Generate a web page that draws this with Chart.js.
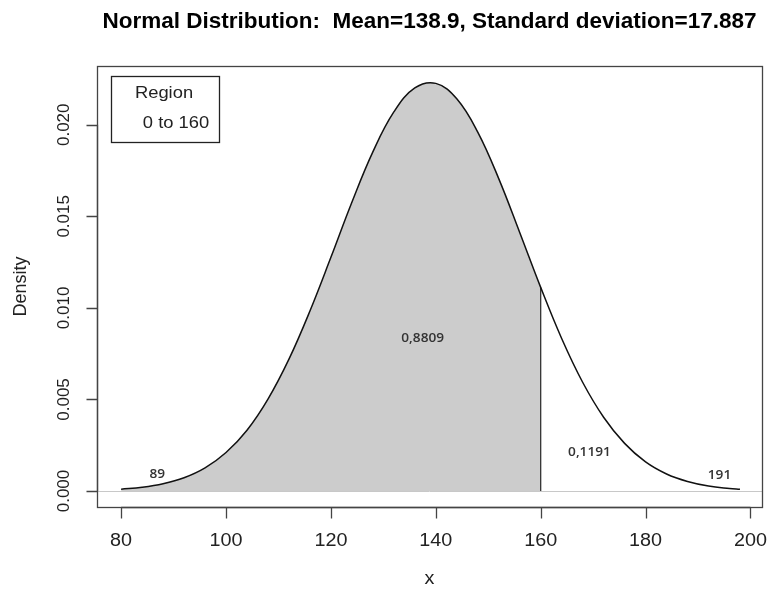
<!DOCTYPE html>
<html>
<head>
<meta charset="utf-8">
<script src="https://cdn.jsdelivr.net/npm/chart.js@4/dist/chart.umd.min.js"></script>
<style>
html,body{margin:0;padding:0;background:#fff}
#wrap{width:767px;height:594px}
</style>
</head>
<body>
<div id="wrap"><canvas id="c" width="767" height="594"></canvas></div>
<script>
// values
const xs=[80,84,88,92,96,100,104,108,112,116,120,124,128,132,136,140,144,148,152,156,160,164,168,172,176,180,184,188,192,196,198];
const dens=[0.00010,0.00020,0.00039,0.00072,0.00126,0.00210,0.00332,0.00502,0.00720,0.00983,0.01276,0.01577,0.01852,0.02070,0.02201,0.02226,0.02142,0.01960,0.01706,0.01412,0.01112,0.00833,0.00594,0.00403,0.00260,0.00159,0.00093,0.00052,0.00027,0.00014,0.00010];
const cutX=160;
const xTicks=[80,100,120,140,160,180,200];
const yTicks=[0,0.005,0.010,0.015,0.020];
const yTickLabels=["0.000","0.005","0.010","0.015","0.020"];
const areaLabels=[
  {x:137.5,y:0.00836,t:"0,8809"},
  {x:169.3,y:0.00213,t:"0,1191"},
  {x:86.9,y:0.00093,t:"89"},
  {x:194.1,y:0.00087,t:"191"}
];
const titleText="Normal Distribution:  Mean=138.9, Standard deviation=17.887";

const curve=xs.map((x,i)=>({x:x,y:dens[i]}));
const shaded=curve.filter(p=>p.x<=cutX);
const cutIdx=xs.indexOf(cutX);
const cutLine=[{x:cutX,y:0},{x:cutX,y:dens[cutIdx]}];

// text slightly widened like the scanned picture
function wtext(ctx,s,x,y,sx){
  ctx.save();
  ctx.translate(x,y);
  ctx.scale(sx,1);
  ctx.fillText(s,0,0);
  ctx.restore();
}

const rPlot={
  id:'rPlot',
  beforeDatasetsDraw(chart){
    const ctx=chart.ctx, a=chart.chartArea, sy=chart.scales.y;
    // gray line at zero
    const y0=Math.round(sy.getPixelForValue(0))+0.5;
    ctx.save();
    ctx.strokeStyle='#c8c8c8';ctx.lineWidth=1;
    ctx.beginPath();ctx.moveTo(a.left,y0);ctx.lineTo(a.right,y0);ctx.stroke();
    ctx.restore();
  },
  afterDraw(chart){
    const ctx=chart.ctx, a=chart.chartArea, sx=chart.scales.x, sy=chart.scales.y;
    ctx.save();
    ctx.strokeStyle='#444';ctx.lineWidth=1.3;
    ctx.strokeRect(a.left+0.5,a.top+0.5,a.right-a.left,a.bottom-a.top);
    ctx.fillStyle='#222';
    // x axis
    ctx.font='18px "Liberation Sans", Arial, sans-serif';
    ctx.textAlign='center';ctx.textBaseline='middle';
    const xb=a.bottom+0.5;
    ctx.beginPath();
    ctx.moveTo(sx.getPixelForValue(xTicks[0]),xb);ctx.lineTo(sx.getPixelForValue(xTicks[xTicks.length-1]),xb);
    xTicks.forEach(v=>{
      const px=Math.round(sx.getPixelForValue(v))+0.5;
      ctx.moveTo(px,xb);ctx.lineTo(px,xb+11);
    });
    ctx.stroke();
    xTicks.forEach(v=>wtext(ctx,String(v),sx.getPixelForValue(v),a.bottom+34,1.1));
    // y axis
    const xl=a.left+0.5;
    ctx.beginPath();
    ctx.moveTo(xl,sy.getPixelForValue(yTicks[0]));ctx.lineTo(xl,sy.getPixelForValue(yTicks[yTicks.length-1]));
    yTicks.forEach(v=>{
      const py=Math.round(sy.getPixelForValue(v))+0.5;
      ctx.moveTo(xl,py);ctx.lineTo(xl-11,py);
    });
    ctx.stroke();
    ctx.font='17px "Liberation Sans", Arial, sans-serif';
    yTicks.forEach((v,i)=>{
      ctx.save();
      ctx.translate(a.left-33,sy.getPixelForValue(v));
      ctx.rotate(-Math.PI/2);
      ctx.fillText(yTickLabels[i],0,0);
      ctx.restore();
    });
    // axis titles
    ctx.font='18px "Liberation Sans", Arial, sans-serif';
    wtext(ctx,'x',(a.left+a.right)/2,579,1.1);
    ctx.save();
    ctx.translate(21,(a.top+a.bottom)/2);
    ctx.rotate(-Math.PI/2);
    ctx.fillText('Density',0,0);
    ctx.restore();
    // title
    ctx.font='bold 22.5px "Liberation Sans", Arial, sans-serif';
    ctx.fillStyle='#000';
    ctx.fillText(titleText,(a.left+a.right)/2,22);
    // legend box
    ctx.strokeStyle='#222';ctx.lineWidth=1.3;
    ctx.strokeRect(111.5,76.5,108,66);
    ctx.font='17px "Liberation Sans", Arial, sans-serif';
    ctx.fillStyle='#222';
    wtext(ctx,'Region',164,93,1.08);
    wtext(ctx,'0 to 160',176,123,1.08);
    // area labels
    ctx.font='600 13px "Open Sans", "DejaVu Sans", sans-serif';
    ctx.fillStyle='#333';
    areaLabels.forEach(l=>wtext(ctx,l.t,sx.getPixelForValue(l.x),sy.getPixelForValue(l.y),1.05));
    ctx.restore();
  }
};

new Chart(document.getElementById('c'),{
  type:'scatter',
  data:{datasets:[
    {data:shaded,showLine:true,fill:'origin',backgroundColor:'#cccccc',borderWidth:0,pointRadius:0,tension:0.4,order:3},
    {data:curve,showLine:true,fill:false,borderColor:'#111',borderWidth:1.5,pointRadius:0,tension:0.4,order:1},
    {data:cutLine,showLine:true,fill:false,borderColor:'#333',borderWidth:1.3,pointRadius:0,order:2}
  ]},
  options:{
    responsive:false,animation:false,
    layout:{padding:{left:97,right:5,top:66,bottom:87}},
    plugins:{legend:{display:false},tooltip:{enabled:false},title:{display:false}},
    scales:{
      x:{type:'linear',display:false,min:75.4,max:202.2},
      y:{type:'linear',display:false,min:-0.000874,max:0.02321}
    }
  },
  plugins:[rPlot]
});
</script>
</body>
</html>
